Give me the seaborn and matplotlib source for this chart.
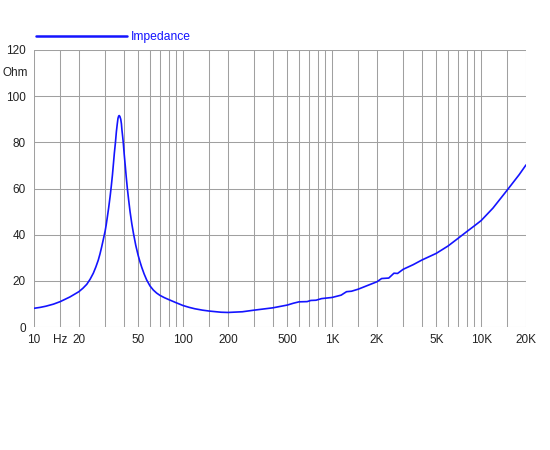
import matplotlib
matplotlib.use("Agg")
import matplotlib.pyplot as plt
import matplotlib.transforms as mtransforms
import seaborn as sns
import pandas as pd

freq = [10, 11, 12, 13.5, 15, 17.4, 20, 21.3, 22.6, 23.8, 25.0, 26.0, 27.0, 27.7, 28.4, 29.2,
        30, 30.5, 31.0, 31.7, 32.4, 33.0, 33.6, 34.1, 34.6, 35.2, 35.7, 36.2, 36.6, 37.0,
        37.3, 37.7, 38.2, 38.6, 38.9, 39.3, 39.7, 40.3, 41.0, 41.6, 42.3, 43.2, 44.1,
        45.3, 46.5, 48.2, 50, 51.4, 52.8, 54.8, 57.0, 60, 63.2, 66.5, 70, 75, 80, 90, 100,
        110, 120, 135, 150, 180, 200, 250, 300, 400, 500, 550, 600, 680, 720, 780, 850,
        1000, 1150, 1250, 1350, 1500, 1700, 2000, 2150, 2400, 2600, 2750, 3000, 3500,
        4000, 5000, 6000, 7000, 8000, 9000, 10000, 12000, 15000, 18000, 20000]
impedance = [8.1, 8.5, 9.0, 9.9, 11.0, 13.0, 15.3, 16.8, 18.5, 20.7, 23.3, 26.0, 29.0, 31.6,
             34.5, 38.0, 41.5, 44.2, 47.3, 51.7, 56.5, 61.0, 65.9, 70.6, 75.3, 80.0, 84.6,
             88.0, 90.4, 91.4, 91.6, 91.2, 90.0, 88.0, 85.4, 82.8, 80.0, 74.8, 69.5, 64.8,
             60.0, 54.8, 50.0, 44.8, 40.5, 35.3, 31.0, 28.3, 25.9, 23.0, 20.4, 17.8, 16.0,
             14.7, 13.7, 12.7, 11.9, 10.5, 9.3, 8.5, 7.9, 7.3, 6.9, 6.4, 6.3,
             6.6, 7.3, 8.3, 9.5, 10.3, 10.9, 11.0, 11.5, 11.6, 12.3, 12.8, 13.8, 15.3, 15.5,
             16.4, 17.8, 19.6, 21.0, 21.2, 23.3, 23.2, 25.0, 27.0, 29.0, 31.9, 35.1, 38.4,
             41.3, 43.8, 46.1, 51.5, 59.4, 66.0, 70.2]

x_labeled = {10: "10", 15: "Hz", 20: "20", 50: "50", 100: "100", 200: "200", 500: "500",
             1000: "1K", 2000: "2K", 5000: "5K", 10000: "10K", 20000: "20K"}
y_ticks = [0, 20, 40, 60, 80, 100, 120]
series_name = "Impedance"
y_unit = "Ohm"

sns.set_theme(style="white")
plt.rcParams["font.family"] = ["Liberation Sans", "DejaVu Sans"]

fig = plt.figure(figsize=(5.5, 4.5), dpi=100)
ax = fig.add_axes([34 / 550, 1 - 327 / 450, (526 - 34) / 550, (327 - 50) / 450])

df = pd.DataFrame({"freq": freq, "imp": impedance})
sns.lineplot(data=df, x="freq", y="imp", sort=False, estimator=None, ax=ax,
             color="#1414ff", linewidth=1.2, label=series_name)

ax.set_xscale("log")
ax.set_xlim(10, 20000)
ax.set_ylim(0, 120)

grid_pos = []
for dec in [10, 100, 1000, 10000]:
    for m in [1, 1.5, 2, 3, 4, 5, 6, 7, 8, 9]:
        v = dec * m
        if v <= 20000:
            grid_pos.append(v)
grid_pos.append(20000)
grid_pos = sorted(set(grid_pos))
ax.set_xticks(grid_pos)
ax.set_xticklabels([x_labeled.get(v, "") for v in grid_pos])
ax.minorticks_off()
ax.set_yticks(y_ticks)
ax.set_yticklabels([str(v) for v in y_ticks])

ax.grid(True, which="major", axis="both", color="#a0a0a0", linewidth=0.75)
for s in ax.spines.values():
    s.set_visible(False)
ax.tick_params(axis="both", labelsize=8.5, colors="#222222")
ax.tick_params(axis="y", length=4, color="#a0a0a0", width=0.75, direction="out", pad=2)
ax.tick_params(axis="x", length=3, color="#a0a0a0", width=0.75, direction="out", pad=2)
ax.set_xlabel("")
ax.set_ylabel("")

trans = mtransforms.blended_transform_factory(ax.transAxes, ax.transData)
ax.text(-0.013, 110, y_unit, transform=trans, ha="right", va="center",
        fontsize=8.5, color="#222222")

leg = ax.legend(loc="lower left", bbox_to_anchor=(0.004, 1.025), frameon=False,
                handlelength=7.5, handletextpad=0.35, borderaxespad=0, borderpad=0,
                fontsize=8.7, labelcolor="linecolor")
for line in leg.get_lines():
    line.set_linewidth(1.8)

fig.savefig("out.png", dpi=100)
